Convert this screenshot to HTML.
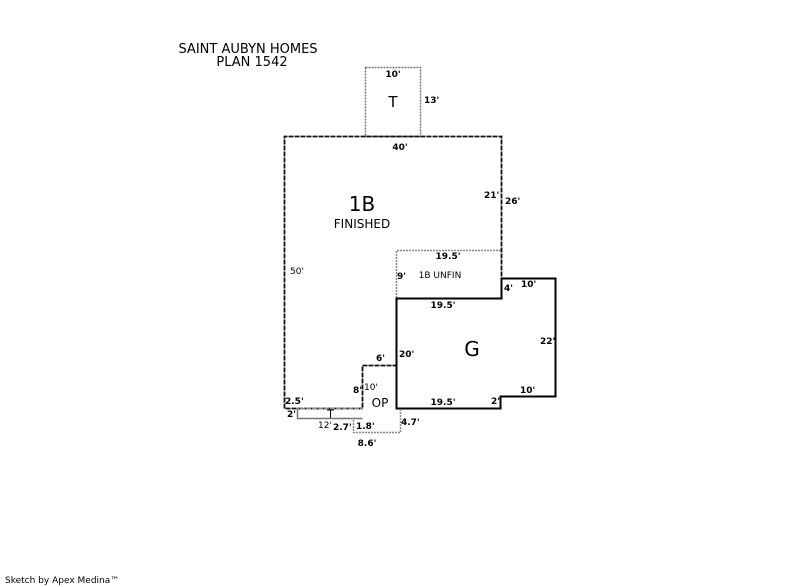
<!DOCTYPE html>
<html><head><meta charset="utf-8"><style>
html,body{margin:0;padding:0;background:#fff;}
svg{display:block;}
text{font-family:"DejaVu Sans","Liberation Sans",sans-serif;}
.d{font-size:9px;font-weight:bold;fill:#000;}
.n{font-size:9px;fill:#000;}
</style></head><body>
<svg width="800" height="587" viewBox="0 0 800 587" xmlns="http://www.w3.org/2000/svg">
<rect width="800" height="587" fill="#fff"/>
<text x="248" y="53" font-size="13" text-anchor="middle">SAINT AUBYN HOMES</text>
<text x="252" y="66" font-size="13" text-anchor="middle">PLAN 1542</text>

<!-- T -->
<rect x="365.5" y="67.5" width="55" height="69" fill="none" stroke="#777" stroke-width="1.5" stroke-dasharray="2,1"/>
<text class="d" x="393" y="77" text-anchor="middle">10'</text>
<text x="393" y="107" font-size="15" text-anchor="middle">T</text>
<text class="d" x="424" y="103">13'</text>

<!-- 1B UNFIN -->
<path d="M396.5 298 V250.5 H501" fill="none" stroke="#888" stroke-width="1.5" stroke-dasharray="2,1"/>

<!-- 1B -->
<path d="M362.5 408.5 H284.5 V136.5 H501.5 V298.5 H396.5 V365.5 H362.5 Z" fill="none" stroke="#111" stroke-width="1.8" stroke-dasharray="5,1"/>
<text class="d" x="400" y="150" text-anchor="middle">40'</text>
<text x="362" y="211" font-size="20" text-anchor="middle">1B</text>
<text x="362" y="228" font-size="12" text-anchor="middle">FINISHED</text>
<text class="d" x="484" y="198">21'</text>
<text class="d" x="505" y="204">26'</text>
<text class="n" x="290" y="274">50'</text>
<text class="d" x="448" y="259" text-anchor="middle">19.5'</text>
<text class="d" x="397" y="279">9'</text>
<text class="n" x="440" y="278" text-anchor="middle" font-size="10">1B UNFIN</text>

<!-- G -->
<path d="M396.5 298.5 H501.5 V278.5 H555.5 V396.5 H500.5 V408.5 H396.5 Z" fill="none" stroke="#000" stroke-width="2"/>
<text class="d" x="443" y="308" text-anchor="middle">19.5'</text>
<text class="d" x="504" y="291">4'</text>
<text class="d" x="521" y="287">10'</text>
<text x="472" y="356" font-size="20" text-anchor="middle">G</text>
<text class="d" x="540" y="344">22'</text>
<text class="d" x="520" y="393">10'</text>
<text class="d" x="491" y="404">2'</text>
<text class="d" x="443" y="405" text-anchor="middle">19.5'</text>
<text class="d" x="399" y="357">20'</text>

<!-- OP -->
<text class="d" x="376" y="361">6'</text>
<text class="d" x="353" y="393">8'</text>
<text class="n" x="364" y="390">10'</text>
<text x="380" y="407" font-size="12" text-anchor="middle">OP</text>
<path d="M353.5 420 V432.5 H400.5 V408.5" fill="none" stroke="#888" stroke-width="1.5" stroke-dasharray="2,1"/>
<text class="d" x="401" y="425">4.7'</text>
<text class="d" x="367" y="446" text-anchor="middle">8.6'</text>
<text class="d" x="356" y="429">1.8'</text>
<text class="d" x="333" y="430">2.7'</text>

<!-- small strip -->
<path d="M297.5 408.5 V418.5 H362.5" fill="none" stroke="#777" stroke-width="1.5"/>
<path d="M297 408.5 H362" fill="none" stroke="#888" stroke-width="1.5" stroke-dasharray="2,1"/>
<path d="M330.5 410 V418 M327 410 H334" stroke="#000" stroke-width="1"/>
<text class="d" x="285" y="404">2.5'</text>
<text class="d" x="287" y="417">2'</text>
<text class="n" x="318" y="428">12'</text>

<text x="5" y="583" font-size="9">Sketch by Apex Medina™</text>
</svg>
</body></html>
